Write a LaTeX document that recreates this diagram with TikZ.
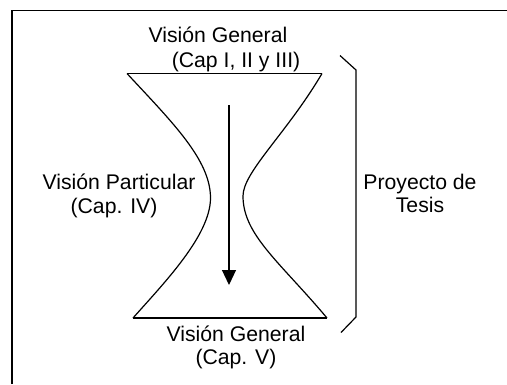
\documentclass[tikz,border=0pt]{standalone}
\usepackage{fontspec}
\setmainfont{Liberation Sans}
\usetikzlibrary{arrows.meta}
\begin{document}
\begin{tikzpicture}[x=1pt,y=-1pt,
  lbl/.style={anchor=base,inner sep=0pt,font=\fontsize{21.2}{24}\selectfont},
  glass/.style={line width=1.2pt,line join=round},
  frame/.style={line width=1.8pt},
  brace/.style={line width=1.2pt,line join=miter}]
\useasboundingbox (0,0) rectangle (507,384);
% frame (only top and left edges visible)
\draw[frame] (12,384) -- (12,10.5) -- (507,10.5);
% hourglass corners
\coordinate (tl) at (127,73.5);
\coordinate (tr) at (322,73.5);
\coordinate (bl) at (133,318);
\coordinate (br) at (327,318);
\coordinate (wl) at (210.5,198);
\coordinate (wr) at (243,196);
\draw[glass] (tl) -- (tr);
\draw[glass] (bl) -- (br);
\draw[glass] (tl) .. controls (173,123) and (210.5,160) .. (wl)
  .. controls (210.5,235) and (165,282) .. (bl);
\draw[glass] (tr) .. controls (287,133) and (243,172) .. (wr)
  .. controls (243,235) and (280,262) .. (br);
% arrow
\coordinate (as) at (229,105);
\coordinate (ae) at (229,285);
\draw[line width=1.2pt,-{Triangle[length=15pt,width=14pt]}] (as) -- (ae);
% bracket
\coordinate (b1) at (340,55.5);
\coordinate (b2) at (356,70);
\coordinate (b3) at (356,317);
\coordinate (b4) at (341,332.5);
\draw[brace] (b1) -- (b2) -- (b3) -- (b4);
% labels
\node[lbl] (t1) at (218,42) {Visión General};
\node[lbl] (t2) at (236,67) {(Cap I, II y III)};
\node[lbl] (l1) at (119,189) {Visión Particular};
\node[lbl] (l2) at (114,213) {(Cap. IV)};
\node[lbl] (r1) at (420,189) {Proyecto de};
\node[lbl] (r2) at (420,212.5) {Tesis};
\node[lbl] (g1) at (236,341) {Visión General};
\node[lbl] (g2) at (236,364) {(Cap. V)};
\end{tikzpicture}
\end{document}
